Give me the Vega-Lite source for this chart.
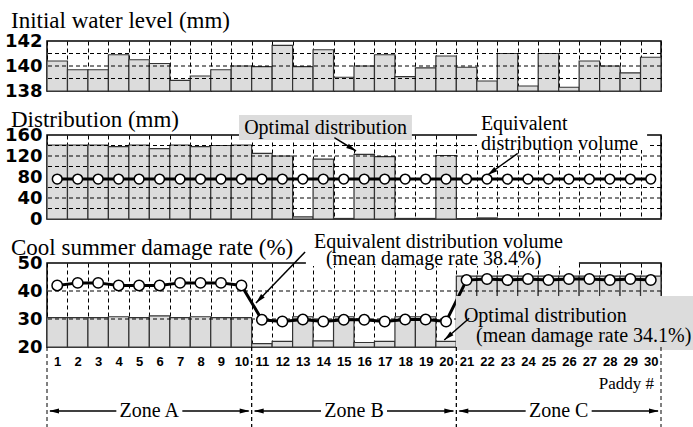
{
  "$schema": "https://vega.github.io/schema/vega-lite/v6.json",
  "background": "white",
  "padding": {"left": 3, "top": 9, "right": 0, "bottom": 0},
  "config": {"view": {"stroke": "black", "strokeWidth": 1.5}, "axis": {"labelOverlap": false}},
  "data": {"values": [
    {"p":1,"lvl":140.4,"dist":141,"eqd":76,"opt":30.5,"eq":42.0},
    {"p":2,"lvl":139.7,"dist":141,"eqd":76,"opt":30.5,"eq":42.9},
    {"p":3,"lvl":139.7,"dist":141,"eqd":76,"opt":30.5,"eq":42.9},
    {"p":4,"lvl":140.9,"dist":138,"eqd":76,"opt":30.8,"eq":42.0},
    {"p":5,"lvl":140.5,"dist":141,"eqd":76,"opt":30.5,"eq":42.0},
    {"p":6,"lvl":140.2,"dist":134,"eqd":76,"opt":31.1,"eq":42.0},
    {"p":7,"lvl":138.85,"dist":141,"eqd":76,"opt":30.5,"eq":42.9},
    {"p":8,"lvl":139.2,"dist":138,"eqd":76,"opt":30.8,"eq":42.9},
    {"p":9,"lvl":139.7,"dist":140,"eqd":76,"opt":30.5,"eq":42.9},
    {"p":10,"lvl":140.0,"dist":141,"eqd":76,"opt":30.5,"eq":42.0},
    {"p":11,"lvl":139.95,"dist":125,"eqd":76,"opt":21.2,"eq":29.7},
    {"p":12,"lvl":141.65,"dist":120,"eqd":76,"opt":22.0,"eq":29.1},
    {"p":13,"lvl":139.95,"dist":4,"eqd":76,"opt":30.8,"eq":29.8},
    {"p":14,"lvl":141.3,"dist":114,"eqd":76,"opt":22.2,"eq":29.1},
    {"p":15,"lvl":139.1,"dist":1,"eqd":76,"opt":30.8,"eq":29.7},
    {"p":16,"lvl":140.0,"dist":123,"eqd":76,"opt":21.6,"eq":29.7},
    {"p":17,"lvl":140.9,"dist":119,"eqd":76,"opt":22.0,"eq":29.1},
    {"p":18,"lvl":139.15,"dist":1,"eqd":76,"opt":30.8,"eq":29.8},
    {"p":19,"lvl":139.85,"dist":1,"eqd":76,"opt":30.8,"eq":29.8},
    {"p":20,"lvl":140.8,"dist":121,"eqd":76,"opt":22.0,"eq":29.1},
    {"p":21,"lvl":139.9,"dist":0,"eqd":76,"opt":45.3,"eq":43.9},
    {"p":22,"lvl":138.8,"dist":2,"eqd":76,"opt":45.3,"eq":44.3},
    {"p":23,"lvl":141.0,"dist":0,"eqd":76,"opt":45.3,"eq":43.9},
    {"p":24,"lvl":138.4,"dist":0,"eqd":76,"opt":45.3,"eq":44.3},
    {"p":25,"lvl":141.0,"dist":0,"eqd":76,"opt":45.3,"eq":43.9},
    {"p":26,"lvl":138.3,"dist":0,"eqd":76,"opt":45.3,"eq":44.3},
    {"p":27,"lvl":140.4,"dist":0,"eqd":76,"opt":45.3,"eq":44.3},
    {"p":28,"lvl":140.0,"dist":0,"eqd":76,"opt":45.3,"eq":43.9},
    {"p":29,"lvl":139.45,"dist":0,"eqd":76,"opt":45.3,"eq":44.3},
    {"p":30,"lvl":140.7,"dist":0,"eqd":76,"opt":45.3,"eq":43.9}
  ]},
  "bounds": "flush",
  "spacing": 44,
  "vconcat": [
    {
      "width": 614, "height": 50,
      "resolve": {"scale": {"x": "independent"}, "axis": {"x": "independent", "y": "independent"}},
      "layer": [
        {"mark": {"type": "bar", "fill": "#dcdcdc", "stroke": "#333333", "strokeWidth": 1.2},
         "encoding": {
           "x": {"field": "p", "type": "ordinal", "scale": {"paddingInner": 0, "paddingOuter": 0},
                 "axis": {"grid": true, "tickBand": "extent", "gridColor": "black", "gridDash": [4,3], "gridWidth": 1, "gridOpacity": 1, "labels": false, "ticks": false, "domain": false, "title": null}},
           "y": {"field": "lvl", "type": "quantitative", "scale": {"domain": [138,142], "nice": false, "zero": false},
                 "axis": {"values": [138,140,142], "grid": false, "ticks": false, "domain": false, "title": null, "labelFont": "DejaVu Sans", "labelFontWeight": "bold", "labelFontSize": 18, "labelPadding": 5, "labelColor": "black", "labelOverlap": false, "labelBound": false, "labelFlush": false}},
           "y2": {"datum": 138}}},
        {"layer": [
          {"data": {"values": [{}]}, "mark": {"type": "rule", "color": "black", "strokeDash": [4,3], "strokeWidth": 1},
           "encoding": {"y": {"datum": 139, "type": "quantitative", "scale": {"domain": [138,142], "nice": false, "zero": false}, "axis": null}}},
          {"data": {"values": [{}]}, "mark": {"type": "rule", "color": "black", "strokeDash": [4,3], "strokeWidth": 1},
           "encoding": {"y": {"datum": 140, "type": "quantitative", "scale": {"domain": [138,142], "nice": false, "zero": false}, "axis": null}}},
          {"data": {"values": [{}]}, "mark": {"type": "rule", "color": "black", "strokeDash": [4,3], "strokeWidth": 1},
           "encoding": {"y": {"datum": 141, "type": "quantitative", "scale": {"domain": [138,142], "nice": false, "zero": false}, "axis": null}}},
          {"data": {"values": [{}]}, "mark": {"type": "text", "text": "Initial water level (mm)", "align": "left", "baseline": "alphabetic", "font": "Liberation Serif", "fontSize": 23, "color": "black"},
           "encoding": {"x": {"datum": -1.26, "type": "quantitative", "scale": {"domain": [0.5,30.5], "nice": false, "zero": false}, "axis": null},
                        "y": {"datum": 143.04, "type": "quantitative", "scale": {"domain": [138,142], "nice": false, "zero": false}, "axis": null}}}
        ]}
      ]
    },
    {
      "width": 614, "height": 84,
      "resolve": {"scale": {"x": "independent"}, "axis": {"x": "independent", "y": "independent"}},
      "layer": [
        {"mark": {"type": "bar", "fill": "#dcdcdc", "stroke": "#333333", "strokeWidth": 1.2},
         "encoding": {
           "x": {"field": "p", "type": "ordinal", "scale": {"paddingInner": 0, "paddingOuter": 0},
                 "axis": {"grid": true, "tickBand": "extent", "gridColor": "black", "gridDash": [4,3], "gridWidth": 1, "gridOpacity": 1, "labels": false, "ticks": false, "domain": false, "title": null}},
           "y": {"field": "dist", "type": "quantitative", "scale": {"domain": [0,160], "nice": false, "zero": false},
                 "axis": {"values": [0,40,80,120,160], "grid": false, "ticks": false, "domain": false, "title": null, "labelFont": "DejaVu Sans", "labelFontWeight": "bold", "labelFontSize": 18, "labelPadding": 5, "labelColor": "black", "labelOverlap": false, "labelBound": false, "labelFlush": false}},
           "y2": {"datum": 0}}},
        {"layer": [
          {"data": {"values": [{}]}, "mark": {"type": "rule", "color": "black", "strokeDash": [4,3], "strokeWidth": 1},
           "encoding": {"y": {"datum": 20, "type": "quantitative", "scale": {"domain": [0,160], "nice": false, "zero": false}, "axis": null}}},
          {"data": {"values": [{}]}, "mark": {"type": "rule", "color": "black", "strokeDash": [4,3], "strokeWidth": 1},
           "encoding": {"y": {"datum": 40, "type": "quantitative", "scale": {"domain": [0,160], "nice": false, "zero": false}, "axis": null}}},
          {"data": {"values": [{}]}, "mark": {"type": "rule", "color": "black", "strokeDash": [4,3], "strokeWidth": 1},
           "encoding": {"y": {"datum": 60, "type": "quantitative", "scale": {"domain": [0,160], "nice": false, "zero": false}, "axis": null}}},
          {"data": {"values": [{}]}, "mark": {"type": "rule", "color": "black", "strokeDash": [4,3], "strokeWidth": 1},
           "encoding": {"y": {"datum": 100, "type": "quantitative", "scale": {"domain": [0,160], "nice": false, "zero": false}, "axis": null}}},
          {"data": {"values": [{}]}, "mark": {"type": "rule", "color": "black", "strokeDash": [4,3], "strokeWidth": 1},
           "encoding": {"y": {"datum": 120, "type": "quantitative", "scale": {"domain": [0,160], "nice": false, "zero": false}, "axis": null}}},
          {"data": {"values": [{}]}, "mark": {"type": "rule", "color": "black", "strokeDash": [4,3], "strokeWidth": 1},
           "encoding": {"y": {"datum": 140, "type": "quantitative", "scale": {"domain": [0,160], "nice": false, "zero": false}, "axis": null}}}
        ]},
        {"layer": [
          {"mark": {"type": "line", "color": "black", "strokeWidth": 3},
           "encoding": {"x": {"field": "p", "type": "ordinal", "scale": {"paddingInner": 0, "paddingOuter": 0}, "axis": null},
                        "y": {"field": "eqd", "type": "quantitative", "scale": {"domain": [0,160], "nice": false, "zero": false}, "axis": null}}},
          {"mark": {"type": "point", "shape": "circle", "filled": true, "fill": "white", "stroke": "black", "strokeWidth": 1.5, "size": 95, "opacity": 1},
           "encoding": {"x": {"field": "p", "type": "ordinal", "scale": {"paddingInner": 0, "paddingOuter": 0}, "axis": null},
                        "y": {"field": "eqd", "type": "quantitative", "scale": {"domain": [0,160], "nice": false, "zero": false}, "axis": null}}}
        ]},
        {"layer": [
          {"data": {"values": [{}]}, "mark": {"type": "text", "text": "Distribution (mm)", "align": "left", "baseline": "alphabetic", "font": "Liberation Serif", "fontSize": 23, "color": "black"},
           "encoding": {"x": {"datum": -1.26, "type": "quantitative", "scale": {"domain": [0.5,30.5], "nice": false, "zero": false}, "axis": null},
                        "y": {"datum": 175.2, "type": "quantitative", "scale": {"domain": [0,160], "nice": false, "zero": false}, "axis": null}}},
          {"data": {"values": [{}]}, "mark": {"type": "rect", "fill": "#dcdcdc"},
           "encoding": {"x": {"datum": 9.88, "type": "quantitative", "scale": {"domain": [0.5,30.5], "nice": false, "zero": false}, "axis": null}, "x2": {"datum": 18.33},
                        "y": {"datum": 198.1, "type": "quantitative", "scale": {"domain": [0,160], "nice": false, "zero": false}, "axis": null}, "y2": {"datum": 150.5}}},
          {"data": {"values": [{}]}, "mark": {"type": "text", "text": "Optimal distribution", "align": "center", "baseline": "alphabetic", "font": "Liberation Serif", "fontSize": 20, "color": "black"},
           "encoding": {"x": {"datum": 14.11, "type": "quantitative", "scale": {"domain": [0.5,30.5], "nice": false, "zero": false}, "axis": null},
                        "y": {"datum": 161.9, "type": "quantitative", "scale": {"domain": [0,160], "nice": false, "zero": false}, "axis": null}}},
          {"data": {"values": [{}]}, "mark": {"type": "rule", "color": "black", "strokeWidth": 1.5},
           "encoding": {"x": {"datum": 14.54, "type": "quantitative", "scale": {"domain": [0.5,30.5], "nice": false, "zero": false}, "axis": null}, "x2": {"datum": 15.6},
                        "y": {"datum": 154.9, "type": "quantitative", "scale": {"domain": [0,160], "nice": false, "zero": false}, "axis": null}, "y2": {"datum": 129.5}}},
          {"data": {"values": [{}]}, "mark": {"type": "point", "shape": "M0,0L-0.5,2L0.5,2Z", "filled": true, "color": "black", "opacity": 1, "size": 100, "angle": 121.5},
           "encoding": {"x": {"datum": 15.6, "type": "quantitative", "scale": {"domain": [0.5,30.5], "nice": false, "zero": false}, "axis": null},
                        "y": {"datum": 129.5, "type": "quantitative", "scale": {"domain": [0,160], "nice": false, "zero": false}, "axis": null}}},
          {"data": {"values": [{}]}, "mark": {"type": "rect", "fill": "white"},
           "encoding": {"x": {"datum": 21.51, "type": "quantitative", "scale": {"domain": [0.5,30.5], "nice": false, "zero": false}, "axis": null}, "x2": {"datum": 29.82},
                        "y": {"datum": 201.9, "type": "quantitative", "scale": {"domain": [0,160], "nice": false, "zero": false}, "axis": null}, "y2": {"datum": 131.4}}},
          {"data": {"values": [{}]}, "mark": {"type": "text", "text": "Equivalent", "align": "left", "baseline": "alphabetic", "font": "Liberation Serif", "fontSize": 20, "color": "black"},
           "encoding": {"x": {"datum": 21.7, "type": "quantitative", "scale": {"domain": [0.5,30.5], "nice": false, "zero": false}, "axis": null},
                        "y": {"datum": 169.5, "type": "quantitative", "scale": {"domain": [0,160], "nice": false, "zero": false}, "axis": null}}},
          {"data": {"values": [{}]}, "mark": {"type": "text", "text": "distribution volume", "align": "left", "baseline": "alphabetic", "font": "Liberation Serif", "fontSize": 20, "color": "black"},
           "encoding": {"x": {"datum": 21.7, "type": "quantitative", "scale": {"domain": [0.5,30.5], "nice": false, "zero": false}, "axis": null},
                        "y": {"datum": 131.4, "type": "quantitative", "scale": {"domain": [0,160], "nice": false, "zero": false}, "axis": null}}},
          {"data": {"values": [{}]}, "mark": {"type": "rule", "color": "black", "strokeWidth": 1.5},
           "encoding": {"x": {"datum": 23.5, "type": "quantitative", "scale": {"domain": [0.5,30.5], "nice": false, "zero": false}, "axis": null}, "x2": {"datum": 22.03},
                        "y": {"datum": 125.1, "type": "quantitative", "scale": {"domain": [0,160], "nice": false, "zero": false}, "axis": null}, "y2": {"datum": 83.8}}},
          {"data": {"values": [{}]}, "mark": {"type": "point", "shape": "M0,0L-0.5,2L0.5,2Z", "filled": true, "color": "black", "opacity": 1, "size": 100, "angle": -125.9},
           "encoding": {"x": {"datum": 22.03, "type": "quantitative", "scale": {"domain": [0.5,30.5], "nice": false, "zero": false}, "axis": null},
                        "y": {"datum": 83.8, "type": "quantitative", "scale": {"domain": [0,160], "nice": false, "zero": false}, "axis": null}}}
        ]}
      ]
    },
    {
      "width": 614, "height": 84,
      "resolve": {"scale": {"x": "independent"}, "axis": {"x": "independent", "y": "independent"}},
      "layer": [
        {"mark": {"type": "bar", "fill": "#dcdcdc", "stroke": "#333333", "strokeWidth": 1.2},
         "encoding": {
           "x": {"field": "p", "type": "ordinal", "scale": {"paddingInner": 0, "paddingOuter": 0},
                 "axis": {"grid": true, "tickBand": "extent", "gridColor": "black", "gridDash": [4,3], "gridWidth": 1, "gridOpacity": 1, "labels": true, "labelAngle": 0, "labelFont": "Liberation Sans", "labelFontWeight": "bold", "labelFontSize": 13, "labelPadding": 8, "labelColor": "black", "labelOverlap": false, "ticks": false, "domain": false, "title": null}},
           "y": {"field": "opt", "type": "quantitative", "scale": {"domain": [20,50], "nice": false, "zero": false},
                 "axis": {"values": [20,30,40,50], "grid": false, "ticks": false, "domain": false, "title": null, "labelFont": "DejaVu Sans", "labelFontWeight": "bold", "labelFontSize": 18, "labelPadding": 5, "labelColor": "black", "labelOverlap": false, "labelBound": false, "labelFlush": false}},
           "y2": {"datum": 20}}},
        {"layer": [
          {"data": {"values": [{}]}, "mark": {"type": "rule", "color": "black", "strokeDash": [4,3], "strokeWidth": 1},
           "encoding": {"y": {"datum": 30, "type": "quantitative", "scale": {"domain": [20,50], "nice": false, "zero": false}, "axis": null}}},
          {"data": {"values": [{}]}, "mark": {"type": "rule", "color": "black", "strokeDash": [4,3], "strokeWidth": 1},
           "encoding": {"y": {"datum": 40, "type": "quantitative", "scale": {"domain": [20,50], "nice": false, "zero": false}, "axis": null}}}
        ]},
        {"layer": [
          {"mark": {"type": "line", "color": "black", "strokeWidth": 3},
           "encoding": {"x": {"field": "p", "type": "ordinal", "scale": {"paddingInner": 0, "paddingOuter": 0}, "axis": null},
                        "y": {"field": "eq", "type": "quantitative", "scale": {"domain": [20,50], "nice": false, "zero": false}, "axis": null}}},
          {"mark": {"type": "point", "shape": "circle", "filled": true, "fill": "white", "stroke": "black", "strokeWidth": 1.5, "size": 110, "opacity": 1},
           "encoding": {"x": {"field": "p", "type": "ordinal", "scale": {"paddingInner": 0, "paddingOuter": 0}, "axis": null},
                        "y": {"field": "eq", "type": "quantitative", "scale": {"domain": [20,50], "nice": false, "zero": false}, "axis": null}}}
        ]},
        {"layer": [
          {"data": {"values": [{}]}, "mark": {"type": "text", "text": "Cool summer damage rate (%)", "align": "left", "baseline": "alphabetic", "font": "Liberation Serif", "fontSize": 23, "color": "black"},
           "encoding": {"x": {"datum": -1.26, "type": "quantitative", "scale": {"domain": [0.5,30.5], "nice": false, "zero": false}, "axis": null},
                        "y": {"datum": 52.86, "type": "quantitative", "scale": {"domain": [20,50], "nice": false, "zero": false}, "axis": null}}},
          {"data": {"values": [{}]}, "mark": {"type": "rect", "fill": "white"},
           "encoding": {"x": {"datum": 13.15, "type": "quantitative", "scale": {"domain": [0.5,30.5], "nice": false, "zero": false}, "axis": null}, "x2": {"datum": 26.49},
                        "y": {"datum": 59.6, "type": "quantitative", "scale": {"domain": [20,50], "nice": false, "zero": false}, "axis": null}, "y2": {"datum": 48.93}}},
          {"data": {"values": [{}]}, "mark": {"type": "text", "text": "Equivalent distribution volume", "align": "left", "baseline": "alphabetic", "font": "Liberation Serif", "fontSize": 20, "color": "black"},
           "encoding": {"x": {"datum": 13.55, "type": "quantitative", "scale": {"domain": [0.5,30.5], "nice": false, "zero": false}, "axis": null},
                        "y": {"datum": 55.3, "type": "quantitative", "scale": {"domain": [20,50], "nice": false, "zero": false}, "axis": null}}},
          {"data": {"values": [{}]}, "mark": {"type": "text", "text": "(mean damage rate 38.4%)", "align": "left", "baseline": "alphabetic", "font": "Liberation Serif", "fontSize": 20, "color": "black"},
           "encoding": {"x": {"datum": 14.13, "type": "quantitative", "scale": {"domain": [0.5,30.5], "nice": false, "zero": false}, "axis": null},
                        "y": {"datum": 49.29, "type": "quantitative", "scale": {"domain": [20,50], "nice": false, "zero": false}, "axis": null}}},
          {"data": {"values": [{}]}, "mark": {"type": "rule", "color": "black", "strokeWidth": 1.5},
           "encoding": {"x": {"datum": 13.11, "type": "quantitative", "scale": {"domain": [0.5,30.5], "nice": false, "zero": false}, "axis": null}, "x2": {"datum": 10.71},
                        "y": {"datum": 53.93, "type": "quantitative", "scale": {"domain": [20,50], "nice": false, "zero": false}, "axis": null}, "y2": {"datum": 35.71}}},
          {"data": {"values": [{}]}, "mark": {"type": "point", "shape": "M0,0L-0.5,2L0.5,2Z", "filled": true, "color": "black", "opacity": 1, "size": 100, "angle": -136.1},
           "encoding": {"x": {"datum": 10.71, "type": "quantitative", "scale": {"domain": [0.5,30.5], "nice": false, "zero": false}, "axis": null},
                        "y": {"datum": 35.71, "type": "quantitative", "scale": {"domain": [20,50], "nice": false, "zero": false}, "axis": null}}},
          {"data": {"values": [{}]}, "mark": {"type": "rect", "fill": "#dcdcdc"},
           "encoding": {"x": {"datum": 20.48, "type": "quantitative", "scale": {"domain": [0.5,30.5], "nice": false, "zero": false}, "axis": null}, "x2": {"datum": 32.2},
                        "y": {"datum": 38.21, "type": "quantitative", "scale": {"domain": [20,50], "nice": false, "zero": false}, "axis": null}, "y2": {"datum": 18.93}}},
          {"data": {"values": [{}]}, "mark": {"type": "text", "text": "Optimal distribution", "align": "left", "baseline": "alphabetic", "font": "Liberation Serif", "fontSize": 20, "color": "black"},
           "encoding": {"x": {"datum": 20.87, "type": "quantitative", "scale": {"domain": [0.5,30.5], "nice": false, "zero": false}, "axis": null},
                        "y": {"datum": 28.93, "type": "quantitative", "scale": {"domain": [20,50], "nice": false, "zero": false}, "axis": null}}},
          {"data": {"values": [{}]}, "mark": {"type": "text", "text": "(mean damage rate 34.1%)", "align": "left", "baseline": "alphabetic", "font": "Liberation Serif", "fontSize": 20, "color": "black"},
           "encoding": {"x": {"datum": 21.46, "type": "quantitative", "scale": {"domain": [0.5,30.5], "nice": false, "zero": false}, "axis": null},
                        "y": {"datum": 21.79, "type": "quantitative", "scale": {"domain": [20,50], "nice": false, "zero": false}, "axis": null}}},
          {"data": {"values": [{}]}, "mark": {"type": "rule", "color": "black", "strokeWidth": 1.5},
           "encoding": {"x": {"datum": 21.13, "type": "quantitative", "scale": {"domain": [0.5,30.5], "nice": false, "zero": false}, "axis": null}, "x2": {"datum": 19.91},
                        "y": {"datum": 30.25, "type": "quantitative", "scale": {"domain": [20,50], "nice": false, "zero": false}, "axis": null}, "y2": {"datum": 22.5}}},
          {"data": {"values": [{}]}, "mark": {"type": "point", "shape": "M0,0L-0.5,2L0.5,2Z", "filled": true, "color": "black", "opacity": 1, "size": 100, "angle": -131},
           "encoding": {"x": {"datum": 19.91, "type": "quantitative", "scale": {"domain": [0.5,30.5], "nice": false, "zero": false}, "axis": null},
                        "y": {"datum": 22.5, "type": "quantitative", "scale": {"domain": [20,50], "nice": false, "zero": false}, "axis": null}}},
          {"data": {"values": [{}]}, "mark": {"type": "text", "text": "Paddy #", "align": "right", "baseline": "alphabetic", "font": "Liberation Serif", "fontSize": 17, "color": "black"},
           "encoding": {"x": {"datum": 30.16, "type": "quantitative", "scale": {"domain": [0.5,30.5], "nice": false, "zero": false}, "axis": null},
                        "y": {"datum": 5.0, "type": "quantitative", "scale": {"domain": [20,50], "nice": false, "zero": false}, "axis": null}}},
          {"data": {"name": "zones", "values": [
              {"zone": "Zone A", "from": 0.5, "to": 10.5, "mid": 5.5},
              {"zone": "Zone B", "from": 10.5, "to": 20.5, "mid": 15.5},
              {"zone": "Zone C", "from": 20.5, "to": 30.5, "mid": 25.5}]},
           "layer": [
             {"mark": {"type": "rule", "color": "black", "strokeDash": [4,3], "strokeWidth": 1},
              "encoding": {"x": {"field": "from", "type": "quantitative", "scale": {"domain": [0.5,30.5], "nice": false, "zero": false}, "axis": null},
                           "y": {"datum": 20, "type": "quantitative", "scale": {"domain": [20,50], "nice": false, "zero": false}, "axis": null}, "y2": {"datum": -9}}},
             {"mark": {"type": "rule", "color": "black", "strokeDash": [4,3], "strokeWidth": 1},
              "encoding": {"x": {"field": "to", "type": "quantitative", "scale": {"domain": [0.5,30.5], "nice": false, "zero": false}, "axis": null},
                           "y": {"datum": 20, "type": "quantitative", "scale": {"domain": [20,50], "nice": false, "zero": false}, "axis": null}, "y2": {"datum": -9}}},
             {"mark": {"type": "rule", "color": "black", "strokeWidth": 1.5, "xOffset": 3, "x2Offset": -33},
              "encoding": {"x": {"field": "from", "type": "quantitative", "scale": {"domain": [0.5,30.5], "nice": false, "zero": false}, "axis": null}, "x2": {"field": "mid"},
                           "y": {"datum": -2.86, "type": "quantitative", "scale": {"domain": [20,50], "nice": false, "zero": false}, "axis": null}}},
             {"mark": {"type": "rule", "color": "black", "strokeWidth": 1.5, "xOffset": 33, "x2Offset": -3},
              "encoding": {"x": {"field": "mid", "type": "quantitative", "scale": {"domain": [0.5,30.5], "nice": false, "zero": false}, "axis": null}, "x2": {"field": "to"},
                           "y": {"datum": -2.86, "type": "quantitative", "scale": {"domain": [20,50], "nice": false, "zero": false}, "axis": null}}},
             {"mark": {"type": "point", "shape": "M0,0L-0.5,2L0.5,2Z", "filled": true, "color": "black", "opacity": 1, "size": 100, "angle": 270, "xOffset": 2},
              "encoding": {"x": {"field": "from", "type": "quantitative", "scale": {"domain": [0.5,30.5], "nice": false, "zero": false}, "axis": null},
                           "y": {"datum": -2.86, "type": "quantitative", "scale": {"domain": [20,50], "nice": false, "zero": false}, "axis": null}}},
             {"mark": {"type": "point", "shape": "M0,0L-0.5,2L0.5,2Z", "filled": true, "color": "black", "opacity": 1, "size": 100, "angle": 90, "xOffset": -2},
              "encoding": {"x": {"field": "to", "type": "quantitative", "scale": {"domain": [0.5,30.5], "nice": false, "zero": false}, "axis": null},
                           "y": {"datum": -2.86, "type": "quantitative", "scale": {"domain": [20,50], "nice": false, "zero": false}, "axis": null}}},
             {"mark": {"type": "text", "align": "center", "baseline": "alphabetic", "font": "Liberation Serif", "fontSize": 20, "color": "black"},
              "encoding": {"x": {"field": "mid", "type": "quantitative", "scale": {"domain": [0.5,30.5], "nice": false, "zero": false}, "axis": null},
                           "y": {"datum": -5.0, "type": "quantitative", "scale": {"domain": [20,50], "nice": false, "zero": false}, "axis": null},
                           "text": {"field": "zone"}}}
           ]}
        ]}
      ]
    }
  ]
}
